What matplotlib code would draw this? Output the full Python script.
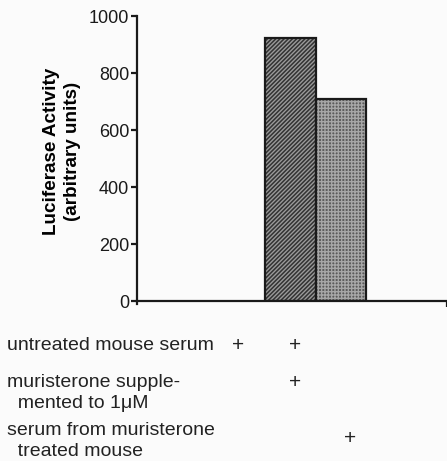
import matplotlib.pyplot as plt
import matplotlib.transforms as mtransforms
import numpy as np

plt.rcParams['font.family'] = ['Liberation Sans', 'DejaVu Sans']
plt.rcParams['hatch.linewidth'] = 1.0

# data
conditions = ['untreated', 'untreated + muristerone', 'treated mouse serum']
values = [0, 923, 709]
row_labels = ['untreated mouse serum',
              'muristerone supple-\n  mented to 1\u03bcM',
              'serum from muristerone\n  treated mouse']
plus_marks = [[1, 1, 0],
              [0, 1, 0],
              [0, 0, 1]]
yticks = [0, 200, 400, 600, 800, 1000]

fig = plt.figure(figsize=(4.47, 4.61), dpi=100)
fig.patch.set_facecolor('#fbfbfb')
ax = fig.add_axes([0.3065, 0.347, 0.6935, 0.618])
ax.set_facecolor('#fbfbfb')

x = np.arange(len(values))
fills = ['#333333', '#333333', '#5a5a5a']
hcols = ['#9a9a9a', '#9a9a9a', '#a6a6a6']
hatches = ['////////', '////////', '+++++']
for i in range(len(values)):
    if values[i] == 0:
        continue
    ax.bar(x[i], values[i], width=1.0, color=fills[i], edgecolor=hcols[i],
           hatch=hatches[i], linewidth=0)
    ax.bar(x[i], values[i], width=1.0, fill=False, edgecolor='#1a1a1a',
           linewidth=1.6)

ax.set_xlim(-2.04, 4.1)
ax.set_ylim(0, 1000)
ax.set_yticks(yticks)
ax.set_yticklabels([str(v) for v in yticks], fontsize=13)
ax.set_xticks([4.1])
ax.set_xticklabels([''])
ax.spines['top'].set_visible(False)
ax.spines['right'].set_visible(False)
for s in ['left', 'bottom']:
    ax.spines[s].set_linewidth(1.6)
    ax.spines[s].set_color('#1a1a1a')
ax.spines['left'].set_bounds(-12, 1000)
ax.tick_params(axis='y', length=4.5, width=1.6, direction='out', pad=1, colors='#1a1a1a')
ax.tick_params(axis='x', length=4.5, width=1.6, direction='out', colors='#1a1a1a')
ax.set_ylabel('Luciferase Activity\n(arbitrary units)', fontsize=13.6,
              fontweight='bold', linespacing=1.35)
ax.yaxis.set_label_coords(-0.18, 0.526)

# condition table below the axis
row_y = [345, 382, 430]
plus_y = [345, 382, 438]
plus_x = [-0.04, 1.09, 2.18]
H = 461.0
trans = mtransforms.blended_transform_factory(ax.transData, fig.transFigure)
for r in range(len(row_labels)):
    fig.text(7 / 447, 1 - (row_y[r] - 8) / H, row_labels[r], fontsize=14,
             va='top', ha='left', linespacing=1.27, color='#222222')
    for c in range(len(x)):
        if plus_marks[r][c]:
            ax.text(plus_x[c], 1 - plus_y[r] / H, '+', fontsize=15,
                    ha='center', va='center', color='#222222',
                    transform=trans, clip_on=False)

fig.savefig('out.png', dpi=100, facecolor=fig.get_facecolor())
